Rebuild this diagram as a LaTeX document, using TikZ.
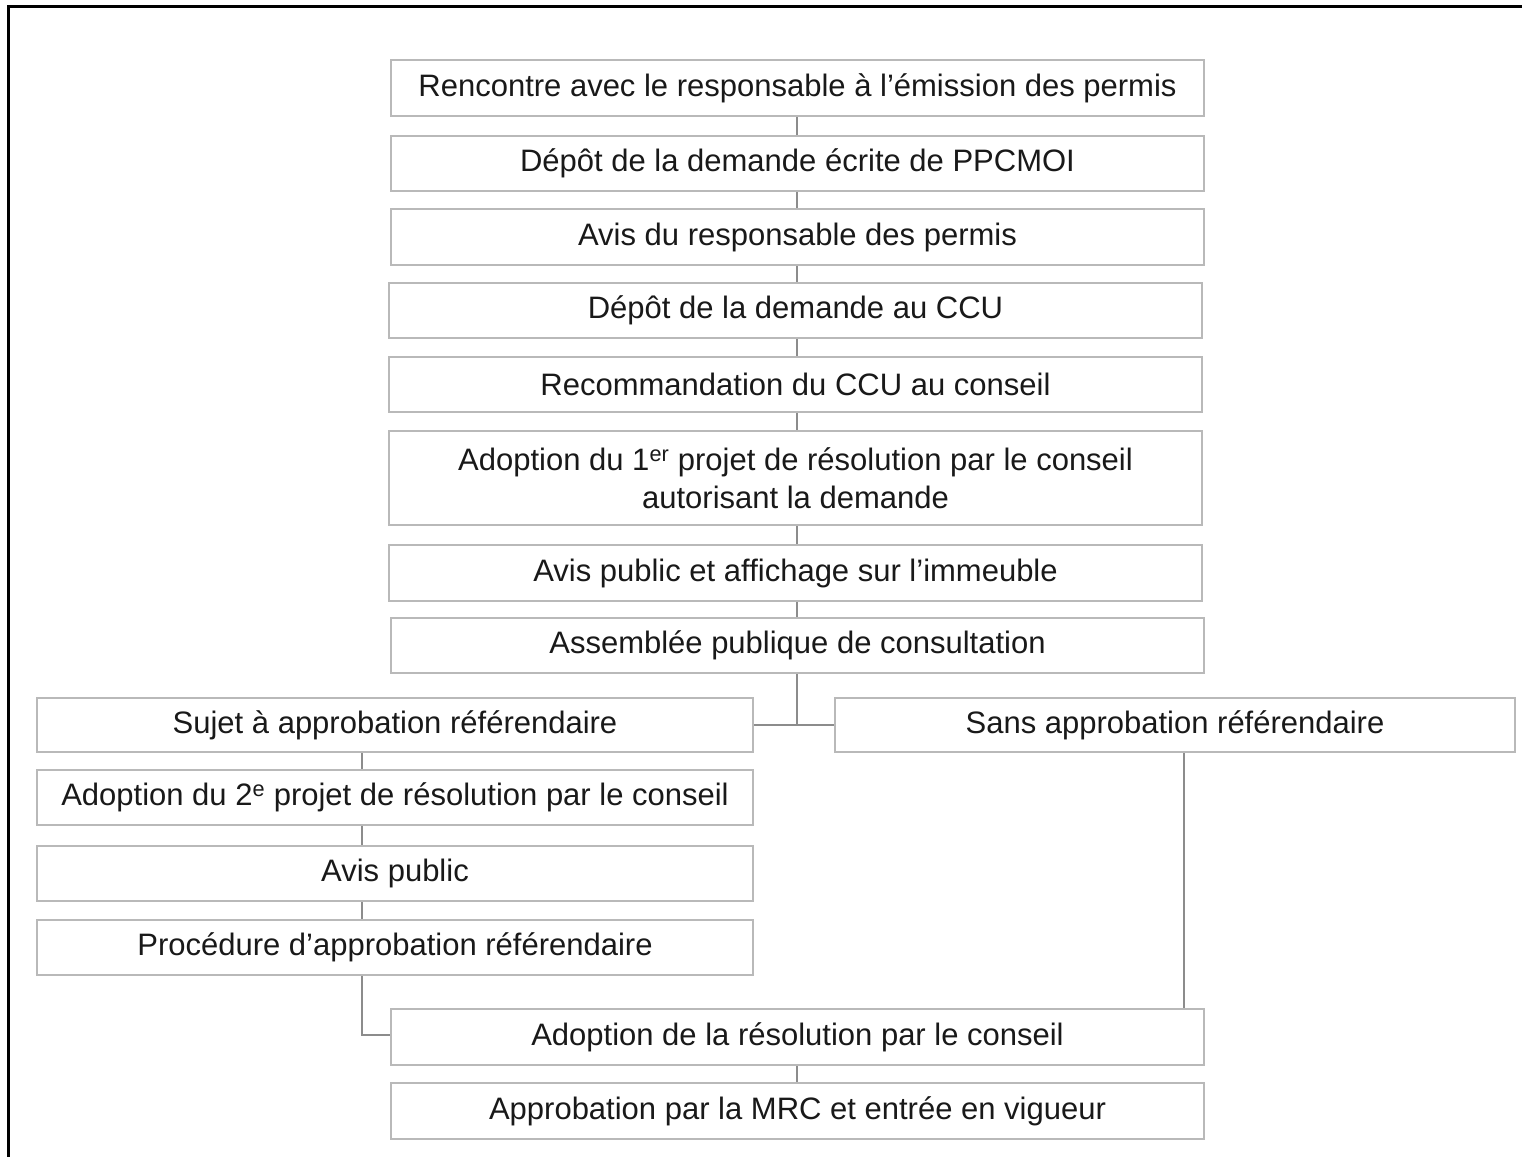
\documentclass[tikz,border=0pt]{standalone}
\usepackage{fontspec}
\setmainfont{Liberation Sans}
\definecolor{boxline}{RGB}{185,185,185}
\definecolor{conn}{RGB}{140,140,140}
\definecolor{txt}{RGB}{25,25,25}
\begin{document}
\begin{tikzpicture}[x=1pt,y=-1pt,
  box/.style={draw=boxline, line width=2pt, fill=white, inner sep=0pt, text=txt,
    font=\fontsize{31}{37.5}\selectfont, align=center},
  conline/.style={draw=conn, line width=2pt}]
\useasboundingbox (0,0) rectangle (1522,1156);
\draw[line width=3pt] (8,1160) -- (8,7) -- (1526,7);
% main column
\node[box, minimum width=813pt, minimum height=56pt] (n1) at (797.5,88) {Rencontre avec le responsable à l’émission des permis};
\node[box, minimum width=813pt, minimum height=55pt] (n2) at (797.5,163.5) {Dépôt de la demande écrite de PPCMOI};
\node[box, minimum width=813pt, minimum height=56pt] (n3) at (797.5,237) {Avis du responsable des permis};
\node[box, minimum width=813pt, minimum height=55pt] (n4) at (795.5,310.5) {Dépôt de la demande au CCU};
\node[box, minimum width=813pt, minimum height=55pt] (n5) at (795.5,384.5) {Recommandation du CCU au conseil};
\node[box, minimum width=813pt, minimum height=94pt] (n6) at (795.5,478) {Adoption du 1\textsuperscript{er} projet de résolution par le conseil\\autorisant la demande};
\node[box, minimum width=813pt, minimum height=56pt] (n7) at (795.5,573) {Avis public et affichage sur l’immeuble};
\node[box, minimum width=813pt, minimum height=55pt] (n8) at (797.5,645.5) {Assemblée publique de consultation};
% branches
\node[box, minimum width=716pt, minimum height=54pt] (s1) at (395,725) {Sujet à approbation référendaire};
\node[box, minimum width=680pt, minimum height=54pt] (r1) at (1175,725) {Sans approbation référendaire};
\node[box, minimum width=716pt, minimum height=55pt] (s2) at (395,797.5) {Adoption du 2\textsuperscript{e} projet de résolution par le conseil};
\node[box, minimum width=716pt, minimum height=55pt] (s3) at (395,873.5) {Avis public};
\node[box, minimum width=716pt, minimum height=55pt] (s4) at (395,947.5) {Procédure d’approbation référendaire};
% end
\node[box, minimum width=813pt, minimum height=56pt] (n9) at (797.5,1037) {Adoption de la résolution par le conseil};
\node[box, minimum width=813pt, minimum height=56pt] (n10) at (797.5,1111) {Approbation par la MRC et entrée en vigueur};
\coordinate (jn) at (797,725);
% connectors
\draw[conline] ([xshift=-0.5pt]n1.south) -- ([xshift=-0.5pt]n1.south |- n2.north);
\draw[conline] ([xshift=-0.5pt]n2.south) -- ([xshift=-0.5pt]n2.south |- n3.north);
\draw[conline] ([xshift=-0.5pt]n3.south) -- ([xshift=-0.5pt]n3.south |- n4.north);
\draw[conline] ([xshift=1.5pt]n4.south) -- ([xshift=1.5pt]n4.south |- n5.north);
\draw[conline] ([xshift=1.5pt]n5.south) -- ([xshift=1.5pt]n5.south |- n6.north);
\draw[conline] ([xshift=1.5pt]n6.south) -- ([xshift=1.5pt]n6.south |- n7.north);
\draw[conline] ([xshift=1.5pt]n7.south) -- ([xshift=1.5pt]n7.south |- n8.north);
\draw[conline] (n8.south -| jn) -- (jn);
\draw[conline] (s1.east) -- (r1.west);
\draw[conline] (s1.south -| 362,0) -- (s2.north -| 362,0);
\draw[conline] (s2.south -| 362,0) -- (s3.north -| 362,0);
\draw[conline] (s3.south -| 362,0) -- (s4.north -| 362,0);
\draw[conline] (s4.south -| 362,0) -- (362,1035) -- (n9.west |- 0,1035);
\draw[conline] (r1.south -| 1184,0) -- (n9.north -| 1184,0);
\draw[conline] ([xshift=-0.5pt]n9.south) -- ([xshift=-0.5pt]n9.south |- n10.north);
\end{tikzpicture}
\end{document}
